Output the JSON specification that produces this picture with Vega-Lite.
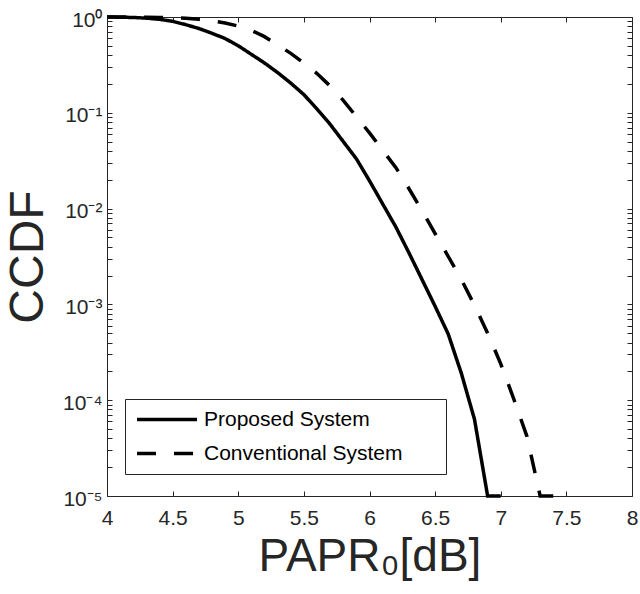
{
  "$schema": "https://vega.github.io/schema/vega-lite/v6.json",
  "width": 525,
  "height": 479,
  "autosize": "none",
  "padding": {"left": 107, "top": 17, "right": 8, "bottom": 98},
  "background": "white",
  "config": {
    "view": {"stroke": null},
    "font": "Liberation Sans",
    "axis": {"grid": false, "domainColor": "#262626", "tickColor": "#262626", "labelColor": "#262626", "titleColor": "#262626", "labelFont": "Liberation Sans", "titleFont": "Liberation Sans", "labelFontSize": 21, "tickSize": -5, "domainWidth": 1, "tickWidth": 1, "titleFontWeight": "normal"}
  },
  "data": {"values": [
    {"papr": 4.0, "ccdf": 1, "system": "Proposed System"},
    {"papr": 4.1, "ccdf": 0.9954, "system": "Proposed System"},
    {"papr": 4.2, "ccdf": 0.9886, "system": "Proposed System"},
    {"papr": 4.3, "ccdf": 0.9727, "system": "Proposed System"},
    {"papr": 4.4, "ccdf": 0.9462, "system": "Proposed System"},
    {"papr": 4.5, "ccdf": 0.9016, "system": "Proposed System"},
    {"papr": 4.6, "ccdf": 0.8318, "system": "Proposed System"},
    {"papr": 4.7, "ccdf": 0.7586, "system": "Proposed System"},
    {"papr": 4.8, "ccdf": 0.6761, "system": "Proposed System"},
    {"papr": 4.9, "ccdf": 0.5957, "system": "Proposed System"},
    {"papr": 5.0, "ccdf": 0.5012, "system": "Proposed System"},
    {"papr": 5.1, "ccdf": 0.4074, "system": "Proposed System"},
    {"papr": 5.2, "ccdf": 0.3311, "system": "Proposed System"},
    {"papr": 5.3, "ccdf": 0.2630, "system": "Proposed System"},
    {"papr": 5.4, "ccdf": 0.2042, "system": "Proposed System"},
    {"papr": 5.5, "ccdf": 0.1549, "system": "Proposed System"},
    {"papr": 5.6, "ccdf": 0.1096, "system": "Proposed System"},
    {"papr": 5.7, "ccdf": 0.07586, "system": "Proposed System"},
    {"papr": 5.8, "ccdf": 0.05012, "system": "Proposed System"},
    {"papr": 5.9, "ccdf": 0.03311, "system": "Proposed System"},
    {"papr": 6.0, "ccdf": 0.01950, "system": "Proposed System"},
    {"papr": 6.1, "ccdf": 0.01122, "system": "Proposed System"},
    {"papr": 6.2, "ccdf": 0.006457, "system": "Proposed System"},
    {"papr": 6.3, "ccdf": 0.003467, "system": "Proposed System"},
    {"papr": 6.4, "ccdf": 0.001820, "system": "Proposed System"},
    {"papr": 6.5, "ccdf": 0.0009550, "system": "Proposed System"},
    {"papr": 6.6, "ccdf": 0.0004898, "system": "Proposed System"},
    {"papr": 6.7, "ccdf": 0.0001905, "system": "Proposed System"},
    {"papr": 6.8, "ccdf": 0.0000631, "system": "Proposed System"},
    {"papr": 6.9, "ccdf": 0.00001, "system": "Proposed System"},
    {"papr": 7.0, "ccdf": 0.00001, "system": "Proposed System"},
    {"papr": 4.0, "ccdf": 1, "system": "Conventional System"},
    {"papr": 4.1, "ccdf": 0.9989, "system": "Conventional System"},
    {"papr": 4.2, "ccdf": 0.9977, "system": "Conventional System"},
    {"papr": 4.3, "ccdf": 0.9954, "system": "Conventional System"},
    {"papr": 4.4, "ccdf": 0.9908, "system": "Conventional System"},
    {"papr": 4.5, "ccdf": 0.9840, "system": "Conventional System"},
    {"papr": 4.6, "ccdf": 0.9727, "system": "Conventional System"},
    {"papr": 4.7, "ccdf": 0.9462, "system": "Conventional System"},
    {"papr": 4.8, "ccdf": 0.9120, "system": "Conventional System"},
    {"papr": 4.9, "ccdf": 0.8650, "system": "Conventional System"},
    {"papr": 5.0, "ccdf": 0.8035, "system": "Conventional System"},
    {"papr": 5.1, "ccdf": 0.7244, "system": "Conventional System"},
    {"papr": 5.2, "ccdf": 0.6237, "system": "Conventional System"},
    {"papr": 5.3, "ccdf": 0.5129, "system": "Conventional System"},
    {"papr": 5.4, "ccdf": 0.4169, "system": "Conventional System"},
    {"papr": 5.5, "ccdf": 0.3311, "system": "Conventional System"},
    {"papr": 5.6, "ccdf": 0.2570, "system": "Conventional System"},
    {"papr": 5.7, "ccdf": 0.1905, "system": "Conventional System"},
    {"papr": 5.8, "ccdf": 0.1349, "system": "Conventional System"},
    {"papr": 5.9, "ccdf": 0.09120, "system": "Conventional System"},
    {"papr": 6.0, "ccdf": 0.06166, "system": "Conventional System"},
    {"papr": 6.1, "ccdf": 0.04074, "system": "Conventional System"},
    {"papr": 6.2, "ccdf": 0.02692, "system": "Conventional System"},
    {"papr": 6.3, "ccdf": 0.01622, "system": "Conventional System"},
    {"papr": 6.4, "ccdf": 0.009550, "system": "Conventional System"},
    {"papr": 6.5, "ccdf": 0.005495, "system": "Conventional System"},
    {"papr": 6.6, "ccdf": 0.003162, "system": "Conventional System"},
    {"papr": 6.7, "ccdf": 0.001820, "system": "Conventional System"},
    {"papr": 6.8, "ccdf": 0.0009772, "system": "Conventional System"},
    {"papr": 6.9, "ccdf": 0.0005012, "system": "Conventional System"},
    {"papr": 7.0, "ccdf": 0.0002399, "system": "Conventional System"},
    {"papr": 7.1, "ccdf": 0.0001023, "system": "Conventional System"},
    {"papr": 7.2, "ccdf": 0.00004169, "system": "Conventional System"},
    {"papr": 7.3, "ccdf": 0.00001, "system": "Conventional System"},
    {"papr": 7.4, "ccdf": 0.00001, "system": "Conventional System"}
  ]},
  "layer": [
    {
      "mark": {"type": "line", "color": "black", "strokeWidth": 3.5, "strokeCap": "butt"},
      "encoding": {
        "x": {"field": "papr", "type": "quantitative", "scale": {"domain": [4, 8], "nice": false, "zero": false},
          "axis": {"orient": "bottom", "values": [4, 4.5, 5, 5.5, 6, 6.5, 7, 7.5, 8], "format": "~g", "labelPadding": 16, "title": "PAPR₀[dB]", "titleFontSize": 46, "titlePadding": 6, "labelFlush": false}},
        "y": {"field": "ccdf", "type": "quantitative", "scale": {"type": "log", "domain": [0.00001, 1], "nice": false},
          "axis": {"orient": "left", "values": [0.00001, 0.00002, 0.00003, 0.00004, 0.00005, 0.00006, 0.00007, 0.00008, 0.00009, 0.0001, 0.0002, 0.0003, 0.0004, 0.0005, 0.0006, 0.0007, 0.0008, 0.0009, 0.001, 0.002, 0.003, 0.004, 0.005, 0.006, 0.007, 0.008, 0.009, 0.01, 0.02, 0.03, 0.04, 0.05, 0.06, 0.07, 0.08, 0.09, 0.1, 0.2, 0.3, 0.4, 0.5, 0.6, 0.7, 0.8, 0.9, 1],
            "labelExpr": "datum.value == 1 ? '10⁰' : datum.value == 0.1 ? '10⁻¹' : datum.value == 0.01 ? '10⁻²' : datum.value == 0.001 ? '10⁻³' : datum.value == 0.0001 ? '10⁻⁴' : datum.value == 0.00001 ? '10⁻⁵' : ''",
            "labelPadding": 10, "labelOffset": 3, "labelFlush": false, "title": "CCDF", "titleFontSize": 48, "titlePadding": 10}},
        "strokeDash": {"field": "system", "type": "nominal",
          "scale": {"domain": ["Proposed System", "Conventional System"], "range": [[1, 0], [19, 18]]},
          "legend": {"orient": "none", "legendX": 18, "legendY": 382, "title": " ", "titleOrient": "right", "titlePadding": 34, "titleFontSize": 21, "strokeColor": "#262626", "fillColor": "white", "padding": 10, "labelFont": "Liberation Sans", "labelFontSize": 21, "labelColor": "black", "symbolType": "stroke", "symbolSize": 3600, "symbolStrokeWidth": 3.5, "symbolStrokeColor": "black", "labelOffset": 5, "rowPadding": 12, "clipHeight": 21, "labelLimit": 400}}
      }
    },
    {
      "mark": {"type": "line", "opacity": 0},
      "encoding": {
        "x": {"field": "papr", "type": "quantitative", "axis": {"orient": "top", "values": [4, 4.5, 5, 5.5, 6, 6.5, 7, 7.5, 8], "labels": false, "title": null}},
        "y": {"field": "ccdf", "type": "quantitative", "axis": {"orient": "right", "values": [0.00001, 0.00002, 0.00003, 0.00004, 0.00005, 0.00006, 0.00007, 0.00008, 0.00009, 0.0001, 0.0002, 0.0003, 0.0004, 0.0005, 0.0006, 0.0007, 0.0008, 0.0009, 0.001, 0.002, 0.003, 0.004, 0.005, 0.006, 0.007, 0.008, 0.009, 0.01, 0.02, 0.03, 0.04, 0.05, 0.06, 0.07, 0.08, 0.09, 0.1, 0.2, 0.3, 0.4, 0.5, 0.6, 0.7, 0.8, 0.9, 1], "labels": false, "title": null}},
        "detail": {"field": "system"}
      }
    }
  ],
  "resolve": {"axis": {"x": "independent", "y": "independent"}}
}
